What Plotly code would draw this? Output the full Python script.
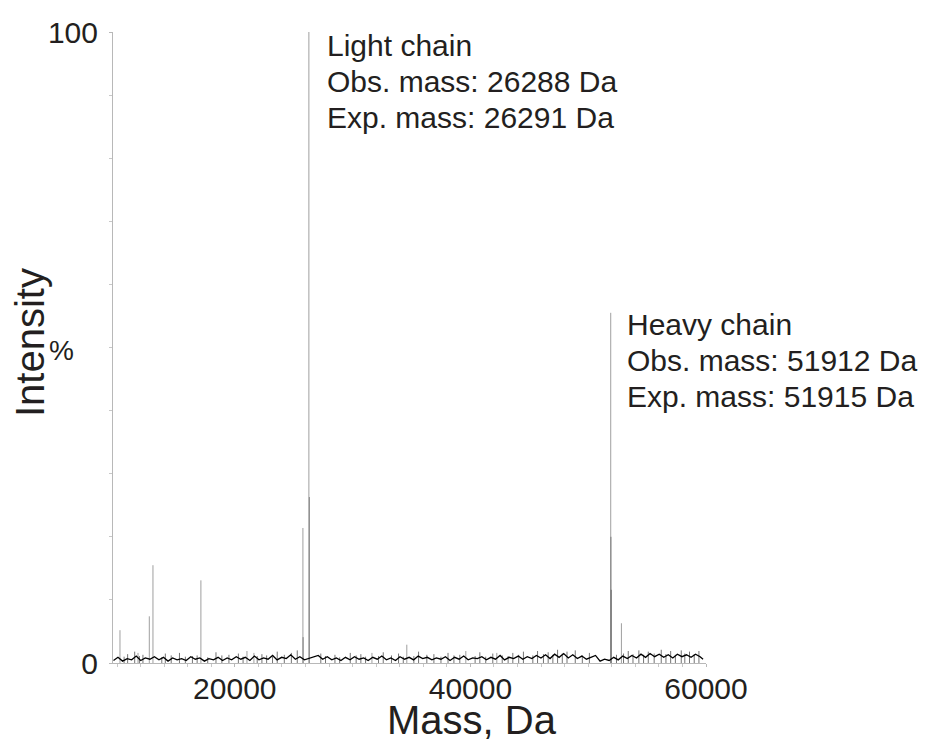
import plotly.graph_objects as go

# ---- data ----
peak_mass = [10250, 11780, 12740, 13050, 17120, 21030, 21620, 25780, 25800,
             26288, 26330, 31640, 34600, 39610, 42240, 51912, 51935, 51960, 52820]
peak_int = [5.2, 1.6, 7.4, 15.5, 13.1, 1.9, 1.6, 21.4, 4.1,
            100.0, 26.3, 1.6, 2.9, 1.9, 1.6, 55.5, 20.0, 11.6, 6.3]

grass_mass = [10900, 11500, 12200, 14100, 15300, 16800, 18400, 19500, 20300, 22300,
              23600, 24800, 25300, 27300, 28500, 29800, 30700, 32600, 33900, 35600,
              36900, 38100, 39100, 40800, 41900, 43600, 44500, 45700, 46600, 47400,
              48200, 48900, 50100, 53400, 54300, 55100, 56200, 57000, 57900, 58600,
              59400,
              10600, 11900, 13800, 14600, 15800, 16400, 17700, 18900, 20700, 21900,
              22700, 23200, 24200, 27700, 28900, 30300, 31100, 32200, 33300, 34300,
              35200, 36300, 37500, 38600, 40400, 41300, 42700, 43200, 44100, 45300,
              46200, 47000, 47800, 49500, 52400, 53000, 53800, 54700, 55600, 56600,
              57400, 58200, 59000]
grass_int = [1.4, 1.8, 1.3, 1.5, 1.6, 1.2, 1.7, 1.3, 1.5, 1.4,
             1.8, 1.6, 2.0, 1.5, 1.3, 1.6, 1.4, 1.7, 1.5, 1.8,
             1.4, 1.6, 1.3, 1.7, 1.5, 1.6, 1.8, 1.9, 1.7, 2.1,
             1.8, 2.0, 1.6, 1.9, 2.0, 1.8, 2.1, 1.9, 2.0, 1.8,
             1.9,
             1.0, 1.1, 0.9, 1.2, 1.0, 1.1, 0.9, 1.2, 1.0, 1.1,
             1.2, 1.0, 1.3, 1.1, 0.9, 1.2, 1.0, 1.1, 1.2, 1.0,
             1.1, 1.3, 1.0, 1.2, 1.1, 1.0, 1.2, 1.1, 1.3, 1.2,
             1.4, 1.3, 1.5, 1.2, 1.3, 1.5, 1.4, 1.3, 1.5, 1.4,
             1.3, 1.5, 1.4]

noise_mass = [
    9700, 10080, 10470, 10860, 11240, 11630, 12010, 12400, 12790, 13170,
    13560, 13940, 14330, 14720, 15100, 15490, 15870, 16260, 16650, 17030,
    17420, 17800, 18190, 18580, 18960, 19350, 19730, 20120, 20510, 20890,
    21280, 21660, 22050, 22440, 22820, 23210, 23590, 23980, 24370, 24750,
    25140, 25520, 25910, 26690, 27080, 27460, 27850, 28230, 28620, 29010,
    29390, 29780, 30160, 30550, 30940, 31320, 31710, 32090, 32480, 32870,
    33250, 33640, 34020, 34410, 34800, 35180, 35570, 35950, 36340, 36730,
    37110, 37500, 37880, 38270, 38660, 39040, 39430, 39810, 40200, 40590,
    40970, 41360, 41740, 42130, 42520, 42900, 43290, 43670, 44060, 44450,
    44830, 45220, 45600, 45990, 46380, 46760, 47150, 47530, 47920, 48310,
    48690, 49080, 49460, 49850, 50240, 50620, 51010, 51390, 51780, 52170,
    52550, 52940, 53320, 53710, 54100, 54480, 54870, 55250, 55640, 56030,
    56410, 56800, 57180, 57570, 57960, 58340, 58730, 59110, 59500, 59750]
noise_int = [
    0.4, 0.9, 0.3, 0.7, 0.5, 1.1, 0.4, 0.8, 0.6, 1.0,
    0.5, 0.9, 0.3, 0.8, 0.5, 0.7, 0.4, 1.0, 0.6, 0.8,
    0.3, 0.7, 0.5, 0.9, 0.4, 0.8, 0.5, 1.0, 0.6, 0.9,
    0.4, 1.1, 0.5, 0.8, 0.6, 1.2, 0.5, 0.9, 0.7, 1.3,
    0.6, 1.0, 0.5, 0.9, 1.2, 0.6, 1.0, 0.5, 0.8, 0.4,
    0.9, 0.5, 1.0, 0.6, 0.8, 0.4, 0.9, 0.6, 1.1, 0.5,
    0.8, 0.4, 1.0, 0.6, 0.9, 0.5, 1.1, 0.7, 0.9, 0.5,
    0.8, 0.6, 1.0, 0.4, 0.9, 0.6, 1.1, 0.5, 0.8, 0.7,
    1.0, 0.5, 0.9, 0.6, 1.2, 0.5, 0.9, 0.7, 1.1, 0.6,
    1.0, 0.7, 1.2, 0.8, 1.3, 0.7, 1.4, 0.9, 1.5, 0.8,
    1.3, 0.7, 1.1, 0.6, 0.9, 1.2, 0.3, 0.6, 0.4, 0.9,
    0.5, 1.1, 0.7, 1.2, 0.8, 1.4, 0.9, 1.5, 1.0, 1.4,
    0.9, 1.3, 0.8, 1.4, 1.0, 1.3, 0.9, 1.4, 1.0, 0.6]

x_tickvals = [20000, 40000, 60000]
y_tickvals = [0, 100]

light_label = ["Light chain", "Obs. mass: 26288 Da", "Exp. mass: 26291 Da"]
heavy_label = ["Heavy chain", "Obs. mass: 51912 Da", "Exp. mass: 51915 Da"]

# ---- figure ----
FONT = "Liberation Sans, Arial, Helvetica, sans-serif"
TXT = "#231f20"


def sticks(xs, ys):
    sx, sy = [], []
    for m, h in zip(xs, ys):
        sx += [m, m, None]
        sy += [0, h, None]
    return sx, sy


fig = go.Figure()
fig.add_trace(go.Scatter(x=noise_mass, y=noise_int, mode="lines",
                         line=dict(color="#000000", width=1.3),
                         hoverinfo="skip", showlegend=False))
gx, gy = sticks(grass_mass, grass_int)
fig.add_trace(go.Scatter(x=gx, y=gy, mode="lines",
                         line=dict(color="rgba(0,0,0,0.55)", width=1),
                         hoverinfo="skip", showlegend=False))
px_, py_ = sticks(peak_mass, peak_int)
fig.add_trace(go.Scatter(x=px_, y=py_, mode="lines",
                         line=dict(color="rgba(0,0,0,0.38)", width=1),
                         hoverinfo="skip", showlegend=False))

annotations = []
for txt, yv in zip(light_label, [97.8, 92.1, 86.4]):
    annotations.append(dict(x=26288, y=yv, xref="x", yref="y", text=txt,
                            showarrow=False, xanchor="left", yanchor="middle",
                            xshift=16, font=dict(family=FONT, size=30, color=TXT)))
for txt, yv in zip(heavy_label, [53.7, 47.9, 42.2]):
    annotations.append(dict(x=51912, y=yv, xref="x", yref="y", text=txt,
                            showarrow=False, xanchor="left", yanchor="middle",
                            xshift=14, font=dict(family=FONT, size=30, color=TXT)))
# axis titles and the "%" unit mark (placed in pixels, converted to paper below)
annotations.append(dict(x=30, y=343, xref="paper", yref="paper", text="Intensity",
                        showarrow=False, textangle=-90, xanchor="center", yanchor="middle",
                        font=dict(family=FONT, size=40, color=TXT)))
annotations.append(dict(x=61, y=350, xref="paper", yref="paper", text="%",
                        showarrow=False, xanchor="center", yanchor="middle",
                        font=dict(family=FONT, size=28, color=TXT)))
annotations.append(dict(x=472, y=720, xref="paper", yref="paper", text="Mass, Da",
                        showarrow=False, xanchor="center", yanchor="middle",
                        font=dict(family=FONT, size=40, color=TXT)))

L, R, T, B = 113, 223, 32, 81
W, H = 929, 744
pw, ph = W - L - R, H - T - B
for a in annotations:
    if a["xref"] == "paper":
        a["x"] = (a["x"] - L) / pw
        a["y"] = (H - B - a["y"]) / ph

fig.update_layout(
    width=W, height=H,
    margin=dict(l=L, r=R, t=T, b=B, pad=0),
    paper_bgcolor="white", plot_bgcolor="white",
    font=dict(family=FONT, color=TXT, size=30),
    annotations=annotations,
    xaxis=dict(range=[9658, 60000], tickvals=x_tickvals,
               ticktext=[str(v) for v in x_tickvals],
               showline=True, linecolor="#b8b8b8", linewidth=1,
               ticks="outside", ticklen=3, tickcolor="#b8b8b8",
               minor=dict(dtick=2000, tick0=0, ticks="outside", ticklen=3, tickcolor="#c8c8c8"),
               showgrid=False, zeroline=False, ticklabelstandoff=-4,
               tickfont=dict(family=FONT, size=30, color=TXT)),
    yaxis=dict(range=[0, 100], tickvals=y_tickvals,
               showline=True, linecolor="#b8b8b8", linewidth=1,
               ticks="outside", ticklen=3, tickcolor="#b8b8b8",
               minor=dict(dtick=10, tick0=0, ticks="outside", ticklen=3, tickcolor="#c8c8c8"),
               showgrid=False, zeroline=False, ticklabelstandoff=5,
               tickfont=dict(family=FONT, size=30, color=TXT)),
)

fig.write_html("out.html")
